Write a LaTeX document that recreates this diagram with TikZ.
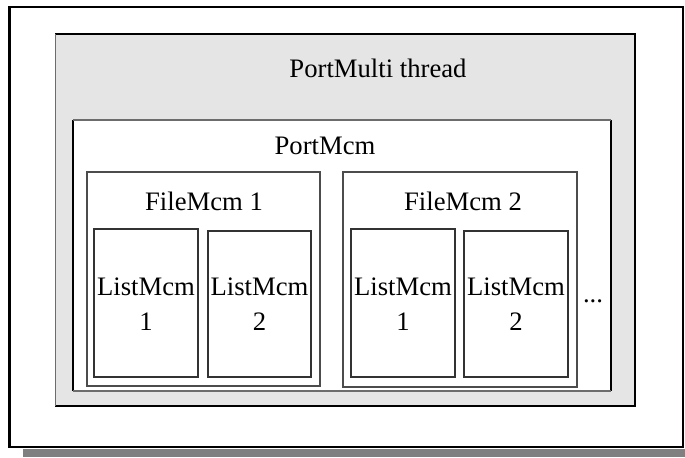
\documentclass[tikz,border=0pt]{standalone}
\usepackage{fontspec}
\setmainfont{Liberation Serif}
\begin{document}
\begin{tikzpicture}[x=0.75pt,y=-0.75pt,
  lbl/.style={font=\fontsize{20}{26}\selectfont, inner sep=0pt},
  edge/.style={line width=0.9pt, black},
  gedge/.style={line width=1.3pt, gray!85!black},
  thin/.style={line width=0.8pt, black!80}]
\useasboundingbox (0,0) rectangle (685,457);
% shadow bar and outer frame
\fill[gray!100] (23,449) rectangle (685,457);
\fill[white] (9,7) rectangle (683,447);
\draw[edge] (9,7) rectangle (683,447);
\draw[line width=1.6pt] (9.5,7) -- (9.5,447);
% PortMulti thread box
\fill[black!10] (55,34) rectangle (635,406);
\draw[edge] (55,406) -- (635,406) -- (635,34) -- (55,34);
\draw[gedge] (55.5,34) -- (55.5,406);
% PortMcm box
\fill[white] (73,120) rectangle (611,391);
\draw[edge] (73,391) -- (73,120);
\draw[edge] (611,120) -- (611,391);
\draw[gedge] (73,120) -- (611,120);
\draw[gedge] (73,391) -- (611,391);
% FileMcm boxes
\draw[thin, black!70] (87,172) rectangle (320,386);
\draw[thin, black!70] (343,172) rectangle (577,387);
% ListMcm boxes
\draw[thin] (94,229) rectangle (198,377);
\draw[thin] (208,231) rectangle (311,377);
\draw[thin] (351,229) rectangle (455,377);
\draw[thin] (464,231) rectangle (568,377);
% labels
\node[lbl, anchor=base] (pmt) at (378,77) {PortMulti thread};
\node[lbl, anchor=base] (pm) at (325,154) {PortMcm};
\node[lbl, anchor=base] (f1) at (204,210) {FileMcm 1};
\node[lbl, anchor=base] (f2) at (463,210) {FileMcm 2};
\node[lbl, align=center] (l11) at (146,304) {ListMcm\\1};
\node[lbl, align=center] (l12) at (259.5,304) {ListMcm\\2};
\node[lbl, align=center] (l21) at (403,304) {ListMcm\\1};
\node[lbl, align=center] (l22) at (516,304) {ListMcm\\2};
\node[lbl, anchor=base] (dots) at (593,302) {...};
\end{tikzpicture}
\end{document}
